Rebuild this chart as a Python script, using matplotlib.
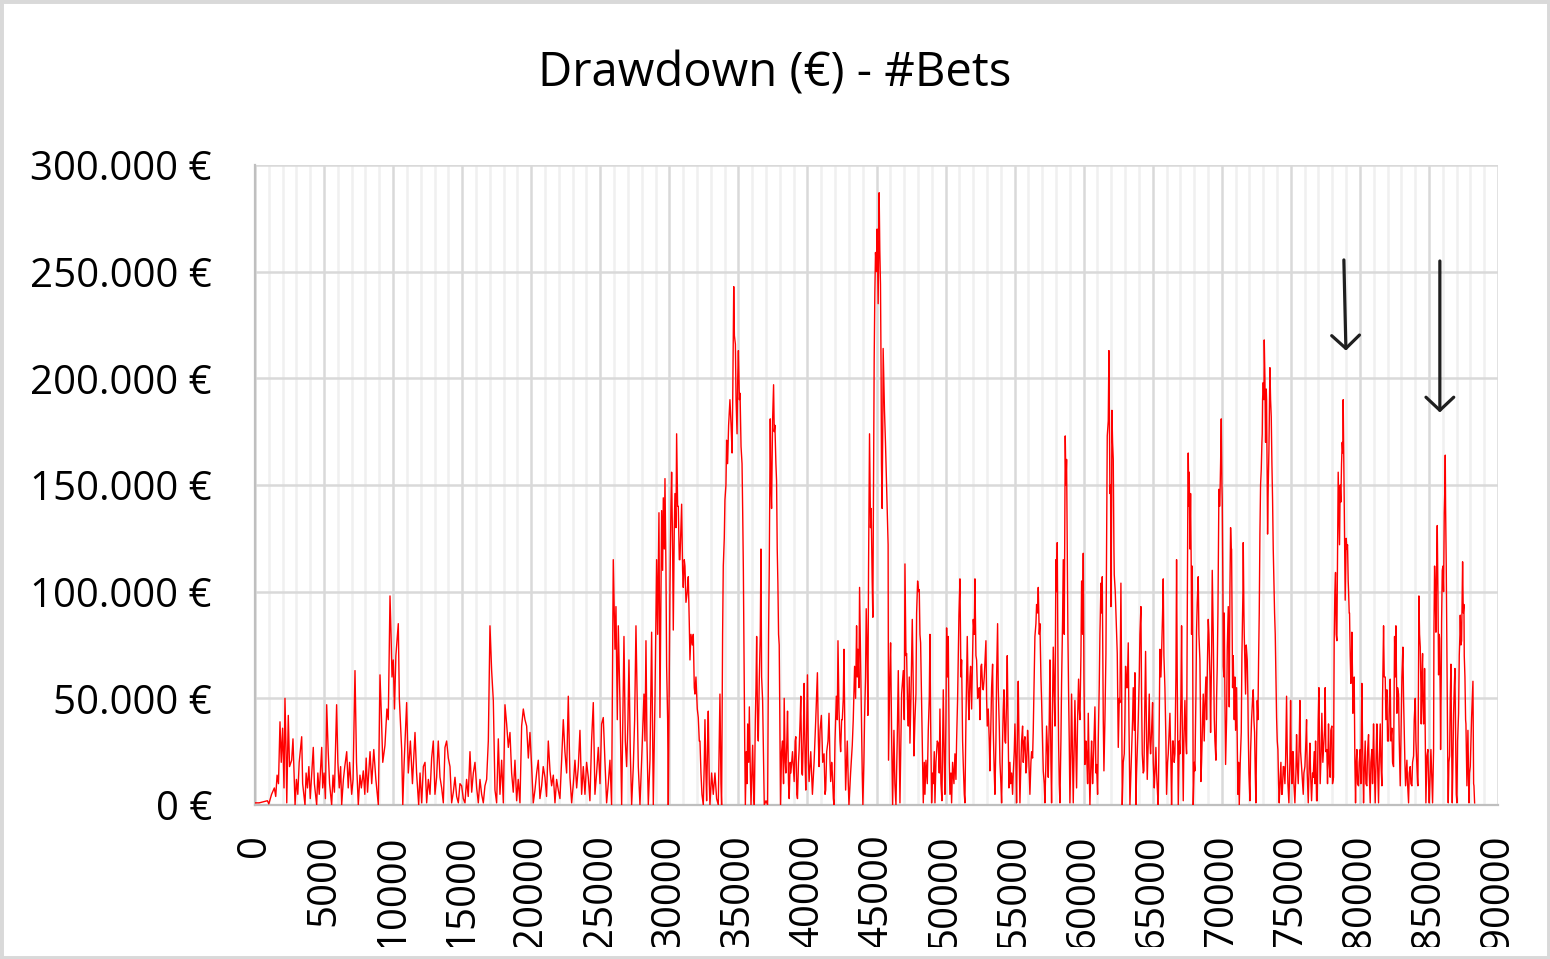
import numpy as np
import matplotlib
matplotlib.use("Agg")
import matplotlib.pyplot as plt
from matplotlib.ticker import MultipleLocator, FuncFormatter
from matplotlib.patches import Rectangle

# drawdown curve
# bets = number of bets, dd = drawdown in thousands of euro
bets_a = [0, 300, 600, 900, 1000, 1200, 1400, 1500, 1600, 1700,
          1810, 1900, 2000, 2100, 2170, 2250, 2300, 2410, 2500, 2655,
          2750, 2900, 3000, 3100, 3200, 3380, 3450, 3620, 3700, 3800,
          3900, 4000, 4100, 4220, 4300, 4465, 4550, 4650, 4830, 4900,
          5000, 5100, 5190, 5300, 5400, 5550, 5650, 5750, 5910, 6000,
          6100, 6200, 6275, 6400, 6500, 6640, 6750, 6850, 7000, 7100,
          7240, 7350, 7480, 7600, 7700, 7840, 7950, 8050, 8150, 8330,
          8450, 8600, 8750, 8930, 9050, 9150, 9250, 9410, 9550, 9650,
          9775, 9850, 9920, 10010, 10100, 10200, 10375, 10450, 10620, 10700,
          10800, 10980, 11100, 11250, 11400, 11585, 11700, 11850]
dd_a = [1, 1, 1.5, 2, 0.5, 5, 8, 4, 14, 10,
        39, 20, 36, 8, 50, 25, 1, 42, 18, 21,
        31, 0, 12, 5, 20, 32, 10, 0, 15, 8,
        18, 3, 14, 27, 10, 0, 15, 5, 27, 8,
        15, 3, 47, 25, 10, 0, 14, 6, 47, 20,
        8, 18, 0, 12, 18, 25, 8, 20, 5, 12,
        63, 20, 0, 14, 8, 16, 5, 22, 6, 25,
        10, 26, 12, 0, 61, 42, 20, 28, 45, 40,
        98, 80, 60, 68, 45, 70, 85, 50, 26, 0,
        20, 48, 15, 30, 10, 34, 15, 0]

bets_b = [11950, 12070, 12190, 12310, 12430, 12550, 12670, 12790, 12910, 13030,
          13150, 13270, 13394, 13515, 13635, 13756, 13876, 13997, 14118, 14238,
          14360, 14480, 14600, 14721, 14840, 14962, 15080, 15204, 15320, 15440,
          15566, 15690, 15807, 15928, 16050, 16169, 16289, 16410, 16531, 16650,
          16772, 16893, 17013, 17134, 17255, 17375, 17496, 17617, 17737, 17858,
          17979, 18099, 18220, 18341, 18461, 18582, 18700, 18823, 18944, 19060,
          19185, 19306, 19427, 19547, 19668, 19790, 19909, 20030, 20150, 20270,
          20392, 20512, 20630, 20754, 20870, 20995, 21110, 21236, 21360, 21477,
          21600, 21719, 21840, 21960, 22080, 22202, 22322, 22440, 22564, 22684,
          22805, 22926, 23050, 23167, 23290, 23410, 23528, 23650, 23770, 23890,
          24010, 24132, 24250, 24370, 24494, 24614, 24735, 24856, 24980, 25097,
          25218, 25340, 25459, 25580, 25700, 25820, 25941]
dd_b = [15, 1, 18, 20, 1, 12, 5, 22, 30, 5,
        13, 30, 13, 8, 1, 27, 30, 22, 18, 1,
        6, 13, 4, 1, 10, 9, 3, 1, 12, 4,
        25, 6, 15, 20, 8, 1, 12, 5, 1, 9,
        12, 30, 84, 63, 49, 7, 1, 31, 5, 21,
        1, 47, 38, 27, 34, 15, 6, 21, 2, 12,
        1, 37, 45, 40, 37, 22, 34, 18, 1, 7,
        15, 21, 3, 9, 18, 13, 4, 30, 16, 9,
        14, 1, 12, 7, 3, 21, 40, 25, 15, 51,
        13, 1, 10, 21, 8, 18, 35, 5, 18, 5,
        20, 13, 2, 30, 48, 5, 15, 27, 10, 38,
        41, 20, 1, 10, 21, 0, 115]

bets_c = [26064, 26136, 26233, 26305, 26426, 26547, 26619, 26715, 26812, 26908,
          27005, 27077, 27174, 27270, 27391, 27488, 27584, 27656, 27753, 27874,
          28018, 28163, 28236, 28308, 28380, 28477, 28598, 28718, 28791, 28839,
          28960, 29080, 29153, 29249, 29321, 29394, 29442, 29515, 29563, 29635,
          29684, 29756, 29804, 29877, 29925, 29997, 30045, 30118, 30166, 30238,
          30286, 30359, 30407, 30480, 30528, 30600, 30648, 30721, 30769, 30842,
          30890, 30962, 31010, 31083, 31131, 31204, 31300, 31372, 31445, 31493,
          31565, 31662, 31734, 31807, 31855, 31927, 32024, 32096, 32169, 32217,
          32290, 32362, 32458, 32531, 32579, 32651, 32700, 32772, 32820, 32893,
          32941, 33062, 33182, 33303, 33423, 33544, 33616, 33665, 33737, 33785,
          33857, 33906, 33978, 34026, 34099, 34147, 34219, 34292, 34388]
dd_c = [73, 93, 40, 84, 48, 0, 35, 79, 30, 18,
        40, 68, 25, 0, 18, 40, 84, 55, 18, 0,
        25, 52, 30, 77, 30, 0, 21, 81, 30, 0,
        50, 115, 80, 137, 41, 100, 138, 110, 144, 120,
        153, 110, 65, 40, 0, 60, 102, 140, 156, 120,
        82, 130, 146, 130, 174, 140, 140, 115, 115, 130,
        141, 110, 102, 115, 112, 95, 100, 107, 85, 68,
        80, 75, 80, 55, 52, 60, 45, 41, 30, 30,
        15, 5, 0, 20, 40, 15, 2, 30, 44, 10,
        0, 15, 5, 15, 3, 0, 30, 52, 10, 0,
        80, 112, 125, 143, 150, 171, 160, 178, 190]

bets_d = [34471, 34543, 34591, 34663, 34711, 34783, 34831, 34903, 34951, 35000,
          35072, 35120, 35192, 35264, 35312, 35360, 35408, 35456, 35504, 35576,
          35624, 35673, 35745, 35793, 35865, 35913, 35985, 36033, 36105, 36153,
          36226, 36274, 36322, 36394, 36442, 36514, 36586, 36634, 36682, 36754,
          36826, 36874, 37000, 37115, 37187, 37235, 37307, 37355, 37403, 37475,
          37548, 37596, 37644, 37716, 37764, 37812, 37860, 37908, 37956, 38004,
          38053, 38125, 38197, 38269, 38317, 38389, 38437, 38510, 38558, 38630,
          38678, 38750, 38798, 38918, 39038, 39110, 39158, 39231, 39279, 39351,
          39399, 39471, 39519, 39591, 39639, 39711, 39759, 39831, 39879, 39952,
          40000, 40072, 40120, 40240, 40360, 40481, 40601, 40721, 40793, 40841,
          40913, 41009, 41105, 41202, 41274, 41322, 41394, 41490, 41562, 41634,
          41682, 41755, 41803, 41875, 41923, 41995, 42043, 42091, 42163, 42211,
          42283, 42355, 42403, 42476, 42524, 42596, 42644, 42716, 42764, 42836,
          42884, 42957, 43005, 43125, 43245, 43317, 43414, 43486, 43558, 43606,
          43654, 43726, 43774, 43846, 43894, 43966, 44014, 44087, 44135, 44207,
          44255, 44327, 44375, 44423, 44495, 44567, 44615, 44687, 44735, 44784,
          44832, 44880, 44928, 45000, 45048, 45120, 45192, 45240, 45288, 45336,
          45360, 45409, 45457, 45481, 45529, 45577, 45649, 45721, 45769, 45841,
          45870, 45961, 46020, 46100, 46167, 46263, 46330, 46408, 46500, 46577]
dd_d = [178, 165, 191, 243, 220, 216, 190, 174, 200, 213,
        190, 193, 168, 160, 137, 110, 71, 30, 0, 25,
        10, 38, 20, 46, 15, 0, 18, 28, 5, 0,
        40, 55, 79, 35, 30, 59, 80, 120, 60, 49,
        20, 0, 2, 0, 80, 112, 181, 150, 139, 180,
        197, 175, 178, 160, 152, 120, 104, 80, 75, 40,
        0, 25, 30, 10, 50, 20, 15, 30, 44, 10,
        3, 20, 15, 25, 11, 30, 32, 5, 3, 20,
        26, 40, 51, 15, 14, 35, 57, 20, 7, 40,
        61, 20, 11, 25, 5, 20, 40, 62, 30, 18,
        35, 42, 20, 24, 5, 7, 25, 30, 43, 20,
        11, 20, 15, 3, 0, 30, 40, 51, 40, 77,
        45, 30, 25, 40, 40, 50, 73, 30, 7, 20,
        30, 10, 0, 15, 28, 40, 65, 50, 84, 60,
        73, 55, 102, 70, 50, 15, 0, 20, 40, 60,
        92, 70, 42, 110, 174, 130, 139, 105, 88, 150,
        209, 240, 259, 250, 270, 235, 287, 260, 244, 200,
        160, 139, 180, 214, 200, 185, 170, 152, 140, 122,
        21, 60, 76, 30, 0, 35, 10, 0, 30, 63]

bets_e = [46698, 46818, 46939, 47011, 47060, 47132, 47180, 47253, 47301, 47373,
          47422, 47494, 47590, 47663, 47711, 47783, 47856, 47904, 47977, 48049,
          48097, 48146, 48194, 48266, 48315, 48387, 48459, 48508, 48580, 48677,
          48749, 48821, 48870, 48918, 48990, 49063, 49111, 49183, 49232, 49304,
          49400, 49473, 49545, 49593, 49666, 49738, 49835, 49907, 49955, 50028,
          50076, 50148, 50197, 50269, 50317, 50389, 50438, 50510, 50607, 50679,
          50752, 50800, 50872, 50969, 51041, 51113, 51162, 51234, 51283, 51355,
          51403, 51476, 51572, 51645, 51693, 51765, 51814, 51886, 51958, 52006,
          52079, 52127, 52199, 52248, 52320, 52368, 52441, 52489, 52561, 52610,
          52682, 52730, 52803, 52875, 52923, 52972, 53020, 53092, 53165, 53213,
          53286, 53334, 53406, 53454, 53527, 53575, 53647, 53696, 53768, 53816,
          53889, 53937, 54009, 54058, 54130, 54178, 54227, 54299, 54347, 54420,
          54468, 54540, 54588, 54661, 54709, 54781, 54854, 54902, 54974, 55023,
          55095, 55143, 55216, 55264, 55336, 55385, 55457, 55505, 55578, 55626,
          55698, 55747, 55819, 55867, 55939, 55988, 56060, 56108, 56181, 56229,
          56301, 56350, 56422, 56470, 56543, 56591, 56663, 56712, 56784, 56832,
          56905, 56953, 57025, 57074, 57146, 57194, 57267, 57315, 57387, 57436,
          57508, 57557, 57629, 57677, 57750, 57798, 57870, 57919, 57991, 58039,
          58088, 58136, 58184, 58232, 58281, 58353, 58401, 58474, 58522, 58594,
          58666, 58715, 58763, 58811, 58859, 58908, 58956, 59004, 59076, 59125,
          59197, 59245, 59318, 59366, 59438, 59487, 59559, 59631]
dd_e = [1, 52, 63, 40, 113, 70, 71, 45, 37, 60,
        29, 50, 87, 55, 23, 40, 52, 90, 105, 100,
        101, 80, 76, 48, 30, 1, 20, 5, 21, 10,
        35, 50, 80, 40, 1, 15, 10, 25, 1, 20,
        30, 29, 15, 45, 10, 2, 54, 20, 5, 40,
        83, 60, 79, 20, 5, 15, 1, 20, 10, 24,
        12, 30, 50, 89, 106, 60, 68, 30, 19, 5,
        1, 40, 79, 50, 40, 60, 65, 45, 70, 87,
        80, 106, 70, 68, 50, 51, 55, 40, 65, 66,
        55, 54, 60, 70, 77, 50, 37, 45, 30, 16,
        40, 55, 66, 35, 15, 5, 30, 60, 85, 55,
        37, 20, 10, 1, 30, 45, 54, 30, 29, 50,
        70, 30, 8, 20, 10, 15, 5, 15, 25, 38,
        20, 1, 40, 58, 20, 1, 20, 30, 37, 20,
        30, 32, 15, 18, 35, 29, 15, 5, 20, 25,
        22, 35, 60, 79, 85, 94, 90, 102, 80, 85,
        60, 49, 30, 16, 10, 1, 20, 37, 25, 13,
        40, 68, 20, 1, 50, 74, 50, 37, 115, 100,
        123, 70, 30, 10, 1, 30, 57, 87, 115, 80,
        173, 150, 162, 120, 80, 52, 30, 1, 25, 52,
        20, 1, 30, 49, 25, 8, 40, 59]

bets_f = [59681, 59730, 59802, 59850, 59922, 59971, 60019, 60091, 60164, 60212,
          60284, 60333, 60405, 60453, 60526, 60574, 60646, 60695, 60767, 60815,
          60888, 60936, 61008, 61057, 61129, 61177, 61250, 61298, 61346, 61419,
          61467, 61539, 61612, 61660, 61708, 61780, 61829, 61877, 61901, 61949,
          61973, 62022, 62046, 62094, 62143, 62191, 62215, 62287, 62336, 62384,
          62432, 62480, 62505, 62577, 62625, 62697, 62746, 62794, 62866, 62939,
          62987, 63035, 63108, 63156, 63228, 63277, 63349, 63421, 63470, 63542,
          63590, 63663, 63711, 63783, 63832, 63904, 63952, 64025, 64073, 64145,
          64194, 64242, 64314, 64362, 64435, 64483, 64556, 64604, 64676, 64749,
          64797, 64845, 64918, 64990, 65038, 65111, 65159, 65231, 65280, 65352,
          65400, 65473, 65521, 65593, 65642, 65714, 65762, 65810, 65883, 65955,
          66003, 66076, 66124, 66196, 66245, 66317, 66365, 66438, 66486, 66558,
          66607, 66679, 66727, 66775, 66848, 66920, 66969, 67041, 67090, 67138,
          67210, 67258, 67331, 67403, 67451, 67500, 67548, 67572, 67620, 67644,
          67692, 67741, 67789, 67813, 67861, 67885, 67933, 68006, 68054, 68126,
          68175, 68223, 68295, 68344, 68416, 68464, 68489, 68537, 68609, 68658,
          68730, 68778, 68851, 68899, 68971, 69020]
dd_f = [45, 40, 70, 105, 80, 118, 60, 19, 30, 24,
        10, 43, 15, 0, 20, 30, 10, 19, 35, 46,
        15, 19, 5, 30, 56, 80, 104, 90, 107, 40,
        16, 40, 71, 120, 173, 180, 213, 170, 146, 150,
        93, 140, 185, 170, 162, 120, 108, 100, 90, 80,
        71, 40, 27, 50, 48, 104, 60, 0, 20, 24,
        40, 65, 55, 55, 76, 40, 0, 15, 24, 40,
        55, 35, 62, 0, 15, 30, 40, 60, 80, 93,
        50, 24, 15, 16, 50, 72, 30, 12, 30, 52,
        30, 24, 35, 48, 20, 8, 15, 27, 15, 5,
        0, 40, 73, 60, 71, 90, 106, 70, 55, 30,
        5, 20, 24, 35, 43, 20, 0, 30, 30, 20,
        24, 60, 115, 60, 0, 30, 24, 50, 84, 40,
        2, 30, 49, 30, 24, 90, 150, 165, 140, 156,
        120, 146, 110, 80, 112, 90, 0, 20, 16, 50,
        82, 95, 107, 80, 68, 40, 11, 20, 40, 52,
        30, 47, 60, 40, 70, 87]

bets_g = [69069, 69142, 69190, 69262, 69310, 69383, 69455, 69504, 69576, 69624,
          69672, 69721, 69769, 69793, 69841, 69865, 69914, 69962, 70010, 70034,
          70083, 70107, 70155, 70179, 70228, 70276, 70348, 70396, 70469, 70517,
          70541, 70589, 70638, 70686, 70710, 70758, 70782, 70831, 70903, 70951,
          71000, 71072, 71120, 71168, 71217, 71265, 71337, 71410, 71458, 71482,
          71531, 71555, 71603, 71627, 71675, 71724, 71772, 71844, 71892, 71917,
          71965, 72037, 72086, 72158, 72230, 72279, 72327, 72375, 72423, 72472,
          72520, 72568, 72616, 72665, 72713, 72761, 72809, 72857, 72906, 72930,
          72954, 73002, 73051, 73075, 73123, 73171, 73220, 73244, 73292, 73316,
          73364, 73413, 73461, 73485, 73533, 73582, 73630, 73678, 73726, 73775,
          73823, 73871, 73919, 73968, 74016, 74064, 74113, 74160, 74209, 74281,
          74330, 74378, 74450, 74498, 74571, 74619, 74691, 74739, 74788, 74860,
          74932, 74981, 75029, 75077, 75125, 75174, 75222, 75294, 75367, 75415,
          75463, 75536, 75608, 75657, 75705, 75777, 75850, 75898, 75946, 76019,
          76091, 76139, 76187, 76260, 76332, 76381, 76429, 76501, 76574, 76622,
          76694, 76742, 76791, 76863, 76911, 76983, 77032]
dd_g = [80, 60, 34, 70, 110, 80, 41, 30, 21, 50,
        65, 90, 130, 148, 140, 143, 160, 181, 150, 143,
        100, 65, 60, 90, 50, 19, 40, 73, 93, 70,
        46, 100, 130, 120, 120, 80, 55, 70, 40, 60,
        35, 55, 30, 5, 20, 0, 20, 34, 70, 79,
        100, 123, 90, 80, 65, 52, 75, 68, 50, 34,
        15, 2, 25, 40, 50, 54, 40, 34, 15, 1,
        30, 49, 40, 68, 90, 127, 150, 157, 170, 174,
        190, 198, 190, 218, 200, 170, 195, 190, 150, 127,
        150, 166, 190, 205, 190, 182, 160, 143, 120, 104,
        90, 80, 60, 41, 30, 26, 10, 1, 10, 20,
        5, 5, 18, 18, 10, 20, 51, 25, 10, 1,
        20, 49, 20, 10, 25, 25, 10, 1, 15, 33,
        20, 10, 30, 49, 25, 18, 10, 5, 15, 18,
        30, 40, 15, 1, 20, 29, 15, 2, 15, 13,
        25, 10, 30, 2, 2, 40, 55]

bets_h = [77077, 77125, 77198, 77246, 77318, 77367, 77439, 77487, 77535, 77608,
          77656, 77729, 77777, 77849, 77897, 77970, 78018, 78091, 78139, 78188,
          78236, 78284, 78333, 78381, 78429, 78477, 78526, 78574, 78622, 78671,
          78719, 78767, 78791, 78839, 78864, 78912, 78936, 78985, 79009, 79057,
          79106, 79154, 79178, 79226, 79250, 79299, 79347, 79395, 79419, 79468,
          79492, 79540, 79589, 79637, 79685, 79733, 79782, 79830, 79902, 79951,
          80023, 80071, 80144, 80192, 80265, 80313, 80385, 80434, 80506, 80555,
          80627, 80675, 80748, 80796, 80868, 80917, 80989, 81037, 81110, 81182,
          81230, 81279, 81351, 81399, 81472, 81520, 81593, 81641, 81714, 81762,
          81834, 81883, 81955, 82003, 82076, 82124, 82197, 82245, 82317, 82366,
          82438, 82511, 82559, 82607, 82680, 82728, 82800, 82849, 82921, 82969,
          83042, 83114, 83162, 83211, 83259, 83307, 83356, 83404, 83452, 83525,
          83573, 83645, 83694, 83766, 83815, 83887, 83935, 84008, 84056, 84128,
          84177, 84201, 84249, 84273, 84321, 84370, 84418, 84442, 84491, 84539,
          84563, 84611, 84659, 84684, 84732, 84780, 84853, 84925, 84974, 85022,
          85094, 85143, 85215, 85263, 85336, 85360, 85408, 85456, 85505, 85553,
          85602, 85650, 85698, 85746, 85770, 85819, 85843, 85891, 85915, 85964,
          86012, 86060, 86109, 86157, 86181, 86205, 86253, 86302, 86326, 86374,
          86398, 86446, 86495, 86543, 86592, 86640, 86688, 86736, 86785, 86833,
          86881, 86930, 86954, 86978, 87026, 87074, 87147, 87195, 87243, 87268,
          87316, 87364, 87412, 87437, 87485, 87533, 87557, 87606, 87654, 87678,
          87726, 87750, 87799, 87823, 87871, 87895, 87943, 87992, 88040, 88088,
          88137, 88186, 88234, 88258, 88306]
dd_h = [30, 10, 25, 43, 20, 26, 35, 55, 25, 26,
        10, 38, 20, 13, 35, 37, 10, 13, 77, 100,
        109, 80, 77, 120, 156, 140, 122, 150, 142, 160,
        170, 165, 190, 160, 145, 110, 96, 115, 125, 120,
        122, 105, 101, 90, 90, 70, 57, 70, 81, 60,
        43, 50, 60, 20, 1, 20, 26, 10, 9, 20,
        26, 10, 57, 30, 1, 15, 30, 10, 9, 25,
        33, 15, 1, 20, 26, 10, 38, 20, 1, 25,
        38, 20, 1, 20, 38, 20, 9, 50, 84, 60,
        60, 40, 54, 30, 30, 45, 59, 30, 36, 20,
        18, 79, 60, 84, 43, 55, 52, 30, 9, 30,
        60, 74, 50, 35, 20, 9, 15, 21, 10, 1,
        15, 18, 10, 9, 20, 23, 40, 50, 30, 18,
        10, 9, 70, 98, 80, 74, 55, 38, 60, 71,
        50, 38, 50, 64, 30, 1, 23, 26, 10, 1,
        15, 26, 10, 1, 26, 80, 112, 100, 81, 110,
        131, 100, 61, 80, 78, 50, 26, 60, 86, 110,
        112, 100, 137, 150, 164, 140, 112, 70, 43, 10,
        1, 20, 23, 50, 66, 30, 1, 20, 43, 55,
        64, 30, 18, 5, 1, 30, 43, 70, 80, 89,
        75, 77, 100, 114, 90, 94, 70, 60, 40, 38,
        20, 9, 25, 35, 10, 1, 15, 18, 30, 41,
        50, 58, 10, 9, 1]

title = "Drawdown (€) - #Bets"
x_max = 90000
y_max = 300000

# hand drawn arrows: (bets, euro) of tail and tip
arrow_tails = [(78840, 255500), (85790, 255000)]
arrow_tips = [(78990, 213000), (85790, 184000)]

bet_parts = [bets_a, bets_b, bets_c, bets_d, bets_e, bets_f, bets_g, bets_h]
dd_parts = [dd_a, dd_b, dd_c, dd_d, dd_e, dd_f, dd_g, dd_h]
for b, d in zip(bet_parts, dd_parts):
    assert len(b) == len(d), (len(b), len(d))
bets = np.concatenate(bet_parts)
drawdown = np.concatenate(dd_parts) * 1000

plt.rcParams['font.family'] = ['Open Sans', 'DejaVu Sans']

W, H = 1550, 959
fig = plt.figure(figsize=(W / 100, H / 100), dpi=100)
ax = fig.add_axes([255 / W, 1 - 805 / H, (1498 - 255) / W, (805 - 165) / H])

ax.plot(bets, drawdown, color='#ff0000', lw=1.0, zorder=3)

ax.set_xlim(0, x_max)
ax.set_ylim(0, y_max)
ax.xaxis.set_major_locator(MultipleLocator(5000))
ax.xaxis.set_minor_locator(MultipleLocator(1000))
ax.yaxis.set_major_locator(MultipleLocator(50000))
ax.yaxis.set_major_formatter(FuncFormatter(lambda v, p: f"{int(v):,} €".replace(",", ".")))

ax.set_axisbelow(True)
ax.grid(which='major', color='#d9d9d9', lw=1.8)
ax.grid(which='minor', axis='x', color='#f0f0f0', lw=1.8)

for s in ['top', 'right']:
    ax.spines[s].set_visible(False)
for s in ['left', 'bottom']:
    ax.spines[s].set_color('#bfbfbf')
    ax.spines[s].set_linewidth(1.6)

ax.tick_params(axis='x', which='both', length=0, pad=21, labelsize=29, labelrotation=90)
ax.tick_params(axis='y', which='both', length=0, pad=31, labelsize=29)

for tail, tip in zip(arrow_tails, arrow_tips):
    ax.annotate('', xy=tip, xytext=tail,
                arrowprops=dict(arrowstyle='->,head_length=0.47,head_width=0.5',
                                lw=2.3, color='#1f1f1f', shrinkA=0, shrinkB=0,
                                mutation_scale=20, capstyle='round'))

fig.text(0.5, 1 - 74 / H, title, ha='center', va='center', fontsize=34)

# chart area edge: clip long tick labels and draw the light frame
fig.add_artist(Rectangle((0, 0), 1, 12 / H, transform=fig.transFigure,
                         fc='white', ec='none', zorder=20))
fig.add_artist(Rectangle((0, 0), 1, 1, transform=fig.transFigure,
                         fill=False, ec='#d9d9d9', lw=5, zorder=21))

fig.savefig('out.png', dpi=100)
